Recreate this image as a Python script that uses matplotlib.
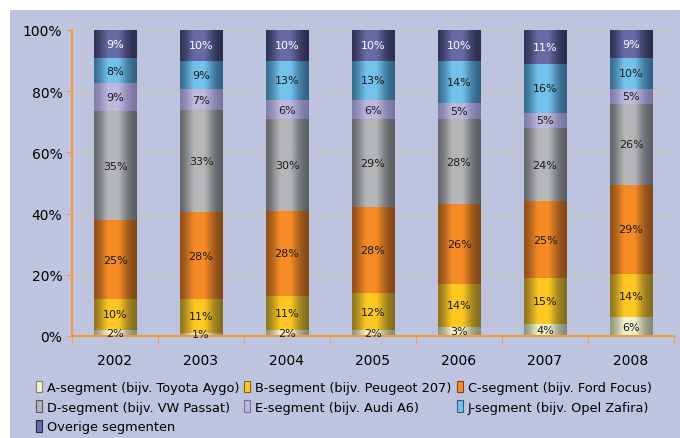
import numpy as np
import matplotlib
matplotlib.use('Agg')
from matplotlib import pyplot as plt
from matplotlib.patches import Rectangle, Patch

years = ['2002', '2003', '2004', '2005', '2006', '2007', '2008']
segments = ['A-segment (bijv. Toyota Aygo)', 'B-segment (bijv. Peugeot 207)',
            'C-segment (bijv. Ford Focus)', 'D-segment (bijv. VW Passat)',
            'E-segment (bijv. Audi A6)', 'J-segment (bijv. Opel Zafira)',
            'Overige segmenten']
a_seg = [2, 1, 2, 2, 3, 4, 6]
b_seg = [10, 11, 11, 12, 14, 15, 14]
c_seg = [25, 28, 28, 28, 26, 25, 29]
d_seg = [35, 33, 30, 29, 28, 24, 26]
e_seg = [9, 7, 6, 6, 5, 5, 5]
j_seg = [8, 9, 13, 13, 14, 16, 10]
overig = [9, 10, 10, 10, 10, 11, 9]

# center colour, edge colour per segment
centers = ['#F2F2CC', '#FFC822', '#F68B26', '#B4B6B8', '#BDB8DE', '#72C2EC', '#676BA4']
edges = ['#7E8470', '#7A6620', '#7A4418', '#55585C', '#75719F', '#2D5C7C', '#272848']
text_cols = ['#1a1a1a'] * 6 + ['white']

bg = '#BEC4DE'
orange = '#F39A3C'

data = np.array([a_seg, b_seg, c_seg, d_seg, e_seg, j_seg, overig], dtype=float)
pct = data / data.sum(axis=0) * 100

fig = plt.figure(figsize=(6.8, 4.39), dpi=100)
fig.patch.set_facecolor('white')
fig.patches.append(Rectangle((10 / 680, 0), 1, 1 - 11 / 439, transform=fig.transFigure,
                             facecolor=bg, edgecolor='none', zorder=-5))

ax = fig.add_axes([72 / 680, 1 - 337 / 439, 602 / 680, 306 / 439])
ax.set_facecolor(bg)

# horizontal profile of a cylinder-like bar
xs = np.linspace(0, 1, 60)
prof = np.clip(np.exp(-((xs - 0.45) / 0.32) ** 2) * 1.15, 0, 1)

def shade(c1, c2):
    c1 = np.array(matplotlib.colors.to_rgb(c1))
    c2 = np.array(matplotlib.colors.to_rgb(c2))
    return (c2[None, :] * (1 - prof[:, None]) + c1[None, :] * prof[:, None])[None, :, :]

w = 0.5
x = np.arange(len(years))
bottom = np.zeros(len(years))
for i in range(len(segments)):
    img = shade(centers[i], edges[i])
    for k in range(len(years)):
        ax.imshow(img, extent=(x[k] - w / 2, x[k] + w / 2, bottom[k], bottom[k] + pct[i, k]),
                  aspect='auto', zorder=2, interpolation='bilinear')
        ax.text(x[k], bottom[k] + pct[i, k] / 2, '%d%%' % data[i, k], ha='center', va='center',
                fontsize=8, color=text_cols[i], zorder=4)
    bottom += pct[i]

ax.set_xlim(-0.5, len(years) - 0.5)
ax.set_ylim(0, 100)
ax.set_yticks(np.arange(0, 101, 20))
ax.set_yticklabels(['%d%%' % v for v in range(0, 101, 20)], fontsize=10)
ax.set_xticks(x)
ax.set_xticklabels(years, fontsize=10)
ax.set_xticks(np.arange(-0.5, len(years), 1), minor=True)
ax.tick_params(axis='x', which='major', length=0, pad=12)
ax.tick_params(axis='x', which='minor', length=6, color=orange, direction='out')
ax.tick_params(axis='y', length=4, color=orange, pad=3)
ax.grid(axis='y', color='#C9C5B9', linewidth=1, zorder=1)
ax.set_axisbelow(True)
for s in ['top', 'right']:
    ax.spines[s].set_visible(False)
for s in ['left', 'bottom']:
    ax.spines[s].set_color(orange)
    ax.spines[s].set_linewidth(1.5)
    ax.spines[s].set_zorder(3)

handles = [Patch(facecolor=centers[i], edgecolor=edges[i], linewidth=0.8, label=segments[i])
           for i in range(len(segments))]
order = [0, 3, 6, 1, 4, 2, 5]
fig.legend([handles[i] for i in order], [segments[i] for i in order], ncol=3,
           loc='lower left', bbox_to_anchor=(26 / 680, -5 / 439), frameon=False, fontsize=9.3,
           handlelength=0.45, handleheight=1.0, handletextpad=0.4, columnspacing=0.4,
           labelspacing=0.5, borderpad=0.25)

plt.savefig('out.png', dpi=100, facecolor='white')
